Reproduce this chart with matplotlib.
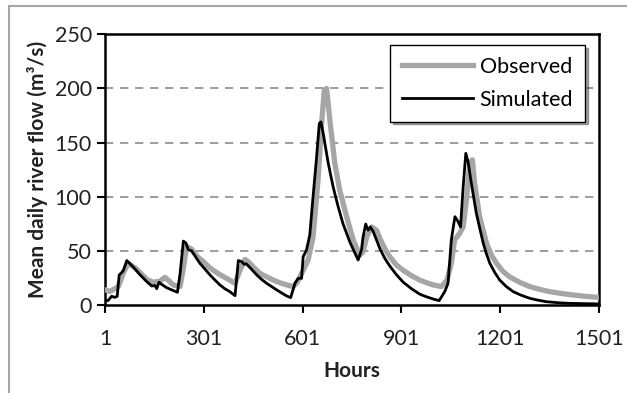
import matplotlib
matplotlib.use("Agg")
import matplotlib.pyplot as plt
from matplotlib.patches import Rectangle

plt.rcParams['font.family'] = ['Lato', 'DejaVu Sans']

# Simulated flow (hour, m3/s)
sim_hours = [1, 10, 21, 31, 38, 44, 52, 57, 67, 87, 107, 128, 143, 153, 158, 165, 173, 188, 203, 221,
             229, 239, 247, 254, 264, 275, 289, 305, 320, 335, 350, 365, 380, 396, 406, 416, 424, 430,
             446, 462, 477, 492, 507, 522, 538, 553, 565, 578, 588, 598, 603, 613, 623, 633, 643, 652,
             657, 664, 679, 694, 709, 724, 745, 760, 770, 780, 785, 793, 800, 807, 816, 836, 851, 866,
             886, 907, 932, 957, 978, 998, 1016, 1033, 1043, 1053, 1064, 1074, 1081, 1089, 1097, 1104,
             1114, 1129, 1140, 1150, 1160, 1170, 1185, 1200, 1220, 1241, 1265, 1291, 1315, 1342, 1380,
             1413, 1460, 1501]
sim_flow = [4.6, 4, 8, 7, 8, 27.7, 30, 32, 41, 35, 28, 21.5, 17.5, 18, 15, 21, 19, 16, 14, 11.7,
            29, 59, 57, 51, 50, 45, 38.5, 33, 27.7, 23, 18.5, 15, 12.3, 8.6, 41, 40, 37.5, 38,
            33, 27.7, 23.5, 20, 17, 14, 11, 8.3, 6.8, 20, 24.6, 24.6, 44.6, 50.7, 64.6, 100, 134, 167.6,
            169, 158, 131, 109, 91, 75, 58, 48, 41.5, 50.7, 63, 74.7, 69, 72, 67.6, 52, 43, 36,
            28, 21, 15, 10, 7.5, 5.5, 4, 12.3, 20, 60, 81.5, 76.8, 72, 109, 140, 132,
            112, 84.6, 70, 57, 47, 38.5, 30, 23, 17, 12.3, 9, 6.2, 4.5, 3, 2,
            1.5, 1.2, 1.0]

# Observed flow
obs_hours = [1, 16, 31, 41, 48, 57, 72, 97, 128, 148, 168, 183, 193, 208, 229, 239, 249, 264, 280,
             300, 315, 330, 350, 370, 396, 411, 426, 436, 455, 472, 492, 512, 532, 553, 573, 585, 603,
             618, 633, 648, 659, 667, 674, 684, 699, 714, 735, 755, 775, 785, 796, 811, 826, 836, 851,
             866, 886, 907, 932, 957, 978, 998, 1023, 1040, 1053, 1063, 1078, 1089, 1099, 1109, 1117,
             1124, 1139, 1160, 1175, 1190, 1210, 1230, 1260, 1291, 1320, 1352, 1390, 1423, 1460, 1501]
obs_flow = [14, 12.5, 15, 17, 22, 30, 38.5, 33, 23.5, 21, 22, 25.5, 23, 18.5, 17, 34, 54, 51.5, 45,
            40, 35.5, 32, 28, 24.6, 20, 32, 42, 40, 34, 29, 26, 23, 20.5, 18.5, 17, 21, 32,
            41.5, 63, 115, 167.6, 198, 200, 170.7, 131, 106, 81.5, 60, 46, 49, 63, 72, 69, 61.5, 52,
            44.6, 37, 32, 27, 23, 20.5, 18.5, 17, 23, 38.5, 60, 66, 72, 97, 131, 134,
            112, 81.5, 57, 46, 38.5, 31, 26, 21, 17, 14.5, 12.3, 10.5, 9.2, 8, 7]

x_ticks = [1, 301, 601, 901, 1201, 1501]
y_ticks = [0, 50, 100, 150, 200, 250]

fig = plt.figure(figsize=(6.27, 3.93), dpi=100)
ax = fig.add_axes([0.1675, 0.224, 0.7875, 0.689])

# outer frame of the original figure
fig.patches.append(Rectangle((9 / 627, -0.1), 1.1, 0.986 + 0.1, transform=fig.transFigure,
                             fill=False, edgecolor='#a6a6a6', linewidth=1.5))

ax.plot(obs_hours, obs_flow, color='#a6a6a6', linewidth=3.8, label='Observed', zorder=3)
ax.plot(sim_hours, sim_flow, color='black', linewidth=2.0, label='Simulated', zorder=4)

ax.set_xlim(1, 1501)
ax.set_ylim(0, 250)
ax.set_xticks(x_ticks)
ax.set_yticks(y_ticks)
for v in y_ticks[1:-1]:
    ax.axhline(v, color='#8c8c8c', linestyle=(0, (5, 4)), linewidth=1.2, zorder=1)

for s in ax.spines.values():
    s.set_linewidth(1.8)
ax.tick_params(direction='out', length=6, width=1.5, labelsize=15.5, colors='black',
               labelcolor='#222222')
ax.tick_params(axis='x', pad=11)

ax.set_xlabel('Hours', fontsize=15, fontweight='bold', color='#222222', labelpad=9)
ax.set_ylabel('Mean daily river flow (m³/s)', fontsize=15, fontweight='bold', color='#222222',
              labelpad=5)

leg = ax.legend(loc='upper right', bbox_to_anchor=(0.972, 0.96), borderaxespad=0, fontsize=15.5,
                frameon=True, fancybox=False, shadow=True, edgecolor='black', framealpha=1,
                handlelength=3.3, handletextpad=0.3, labelspacing=0.6, borderpad=0.55)
leg.get_frame().set_linewidth(1.0)

fig.savefig('out.png', dpi=100)
